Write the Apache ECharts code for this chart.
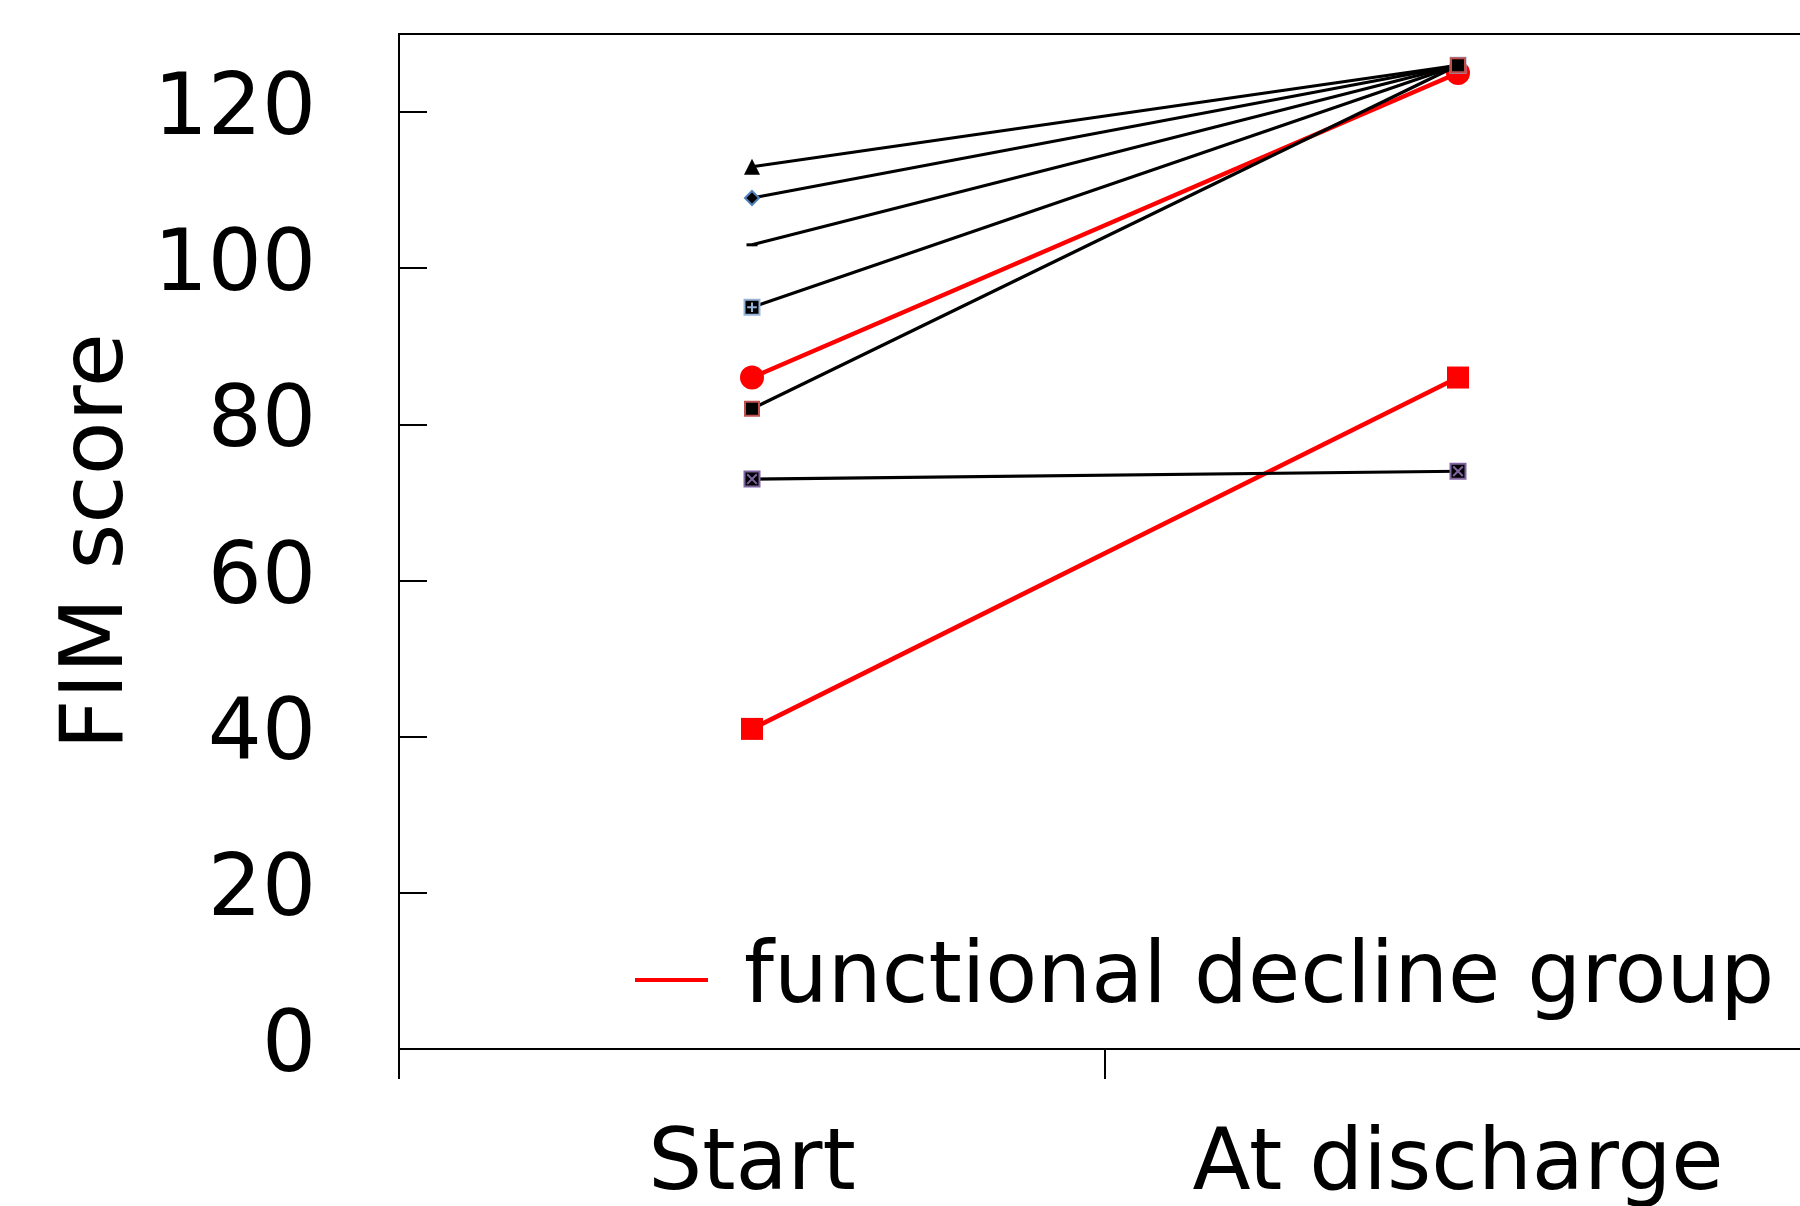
<!DOCTYPE html>
<html>
<head>
<meta charset="utf-8">
<script src="https://cdn.jsdelivr.net/npm/echarts@6/dist/echarts.min.js"></script>
<style>
html,body{margin:0;padding:0;background:#fff;}
#main{width:1800px;height:1206px;}
</style>
</head>
<body>
<div id="main"></div>
<script>
// Categories and tick settings
const categories = ['Start', 'At discharge'];
const yTicks = { min: 0, max: 130, interval: 20 };

// Functional decline group (red)
const declineCircle = [86, 125];
const declineSquare = [41, 86];

// Other patients (black)
const patientTriangle = [113, 126];
const patientDiamond = [109, 126];
const patientDash = [103, 126];
const patientPlus = [95, 126];
const patientSquare = [82, 126];
const patientCross = [73, 74];

const legendName = 'functional decline group';
const FONT = 'DejaVu Sans';

const chart = echarts.init(document.getElementById('main'), null, { renderer: 'canvas' });

function blackSeries(data, symbol, size, border) {
  return {
    type: 'line',
    name: 'patient',
    data: data,
    symbol: symbol,
    symbolSize: size,
    showSymbol: true,
    lineStyle: { color: '#000', width: 3.2 },
    itemStyle: Object.assign({ color: '#000' }, border || {}),
    z: 3
  };
}

const option = {
  animation: false,
  backgroundColor: '#fff',
  grid: {
    left: 399, top: 34, right: -11, bottom: 157,
    outerBoundsMode: 'none',
    containLabel: false,
    show: true, borderColor: '#000', borderWidth: 2, backgroundColor: 'transparent'
  },
  legend: {
    data: [legendName],
    left: 630, top: 930,
    icon: 'rect', itemWidth: 73, itemHeight: 4,
    itemStyle: { color: '#ff0000' },
    textStyle: { fontFamily: FONT, fontSize: 85, color: '#000', lineHeight: 90, padding: [0, 0, 0, 31] },
    selectedMode: false
  },
  xAxis: {
    type: 'category',
    data: categories,
    boundaryGap: true,
    axisLine: { lineStyle: { color: '#000', width: 2 } },
    axisTick: { show: true, inside: false, length: 30, lineStyle: { color: '#000', width: 2 } },
    axisLabel: { fontFamily: FONT, fontSize: 85, color: '#000', margin: 75 },
    splitLine: { show: false }
  },
  yAxis: {
    type: 'value',
    min: yTicks.min, max: yTicks.max, interval: yTicks.interval,
    name: 'FIM score',
    nameLocation: 'middle',
    nameGap: 250,
    nameRotate: 90,
    nameTextStyle: { fontFamily: FONT, fontSize: 88, color: '#000' },
    axisLine: { show: true, lineStyle: { color: '#000', width: 2 } },
    axisTick: { show: true, inside: true, length: 28, lineStyle: { color: '#000', width: 2 } },
    axisLabel: { fontFamily: FONT, fontSize: 85, color: '#000', margin: 83, showMaxLabel: false },
    splitLine: { show: false }
  },
  series: [
    {
      type: 'line', name: legendName, data: declineCircle,
      symbol: 'circle', symbolSize: 24, showSymbol: true,
      lineStyle: { color: '#ff0000', width: 4.5 }, itemStyle: { color: '#ff0000' }, z: 2
    },
    {
      type: 'line', name: legendName, data: declineSquare,
      symbol: 'rect', symbolSize: 22, showSymbol: true,
      lineStyle: { color: '#ff0000', width: 4.5 }, itemStyle: { color: '#ff0000' }, z: 2
    },
    blackSeries(patientTriangle, 'triangle', 16),
    blackSeries(patientDiamond, 'diamond', 14, { borderColor: '#4F81BD', borderWidth: 2 }),
    blackSeries(patientDash, 'rect', [11, 3]),
    blackSeries(patientPlus, 'path://M0,0H10V10H0Z M5,1.8V8.2 M1.8,5H8.2', 15, { borderColor: '#95B3D7', borderWidth: 2 }),
    blackSeries(patientSquare, 'rect', 14, { borderColor: '#C0504D', borderWidth: 2 }),
    blackSeries(patientCross, 'path://M0,0H10V10H0Z M1.8,1.8L8.2,8.2 M8.2,1.8L1.8,8.2', 15, { borderColor: '#8064A2', borderWidth: 2 })
  ]
};

chart.setOption(option);
</script>
</body>
</html>
